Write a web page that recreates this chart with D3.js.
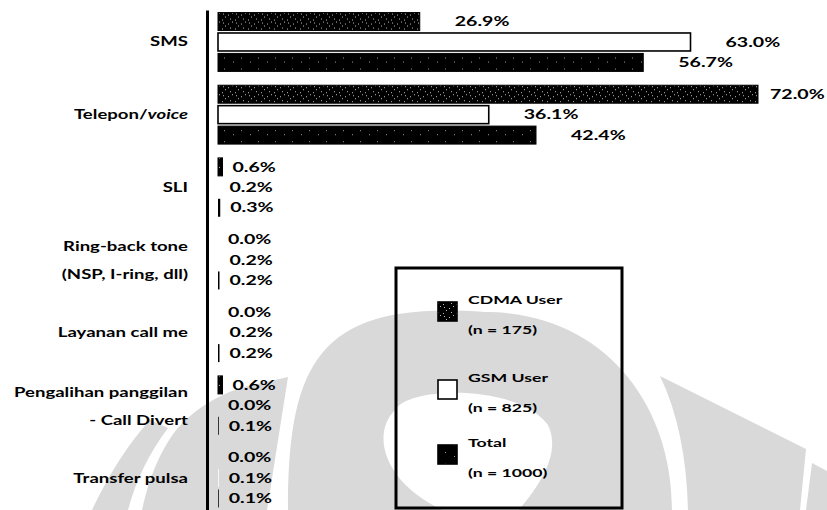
<!DOCTYPE html>
<html>
<head>
<meta charset="utf-8">
<script src="https://cdn.jsdelivr.net/npm/d3@7/dist/d3.min.js"></script>
<style>
  html, body { margin: 0; padding: 0; background: #fff; }
  svg { display: block; }
  text { font-family: Lato, "Open Sans", sans-serif; font-weight: 700; fill: #000; }
</style>
</head>
<body>
<svg id="chart" width="827" height="510"></svg>
<script>
// Services used, share of respondents (%)
const categories = ["SMS", "Telepon/voice", "SLI", "Ring-back tone", "Layanan call me", "Pengalihan panggilan", "Transfer pulsa"];
const categoryLines = [
  ["SMS"],
  ["Telepon/voice"],
  ["SLI"],
  ["Ring-back tone", "(NSP, I-ring, dll)"],
  ["Layanan call me"],
  ["Pengalihan panggilan", "- Call Divert"],
  ["Transfer pulsa"]
];
const italicWords = ["voice"];

const seriesKeys = ["cdma", "gsm", "total"];
const seriesNames = ["CDMA User", "GSM User", "Total"];
const seriesN = [175, 825, 1000];

const cdmaValues  = [26.9, 72.0, 0.6, 0.0, 0.0, 0.6, 0.0];
const gsmValues   = [63.0, 36.1, 0.2, 0.2, 0.2, 0.0, 0.1];
const totalValues = [56.7, 42.4, 0.3, 0.2, 0.2, 0.1, 0.1];

const rows = categories.map((c, i) => ({
  category: c,
  lines: categoryLines[i],
  cdma: cdmaValues[i],
  gsm: gsmValues[i],
  total: totalValues[i]
}));

const W = 827, H = 510;
const SX = 1.45;               // wide lettering used throughout the figure
const svg = d3.select("#chart");

// ---------- fills ----------
const defs = svg.append("defs");
const pc = defs.append("pattern").attr("id", "fillCdma")
  .attr("patternUnits", "userSpaceOnUse").attr("width", 13).attr("height", 9);
pc.append("rect").attr("width", 13).attr("height", 9).attr("fill", "#000");
[[2,1],[7,2],[11,0],[4,4],[9,6],[1,7]].forEach(([px, py]) =>
  pc.append("rect").attr("x", px).attr("y", py).attr("width", 1).attr("height", 1).attr("fill", "#bbb"));

const pt = defs.append("pattern").attr("id", "fillTotal")
  .attr("patternUnits", "userSpaceOnUse").attr("width", 17).attr("height", 11);
pt.append("rect").attr("width", 17).attr("height", 11).attr("fill", "#000");
[[3,1],[12,5]].forEach(([px, py]) =>
  pt.append("rect").attr("x", px).attr("y", py).attr("width", 1).attr("height", 1).attr("fill", "#999"));

const seriesStyle = {
  cdma:  { fill: "url(#fillCdma)",  stroke: "#000", sw: 1 },
  gsm:   { fill: "#fff",            stroke: "#000", sw: 1.6 },
  total: { fill: "url(#fillTotal)", stroke: "#000", sw: 1 }
};

// ---------- background emblem ----------
const mark = svg.append("g").attr("fill", "#d9d9d9").attr("stroke", "none");
mark.append("path").attr("d", "M92,510 Q118,455 150,420 L168,428 Q140,465 128,510 Z");
mark.append("path").attr("d", "M142,510 Q152,462 176,430 Q200,402 240,388 L288,377 L267,510 Z");
mark.append("path").attr("fill-rule", "evenodd").attr("d",
  "M288,510 C288,360 320,300 485,312 C600,312 672,400 672,510 Z " +
  "M447,512 C385,485 370,435 395,410 C410,385 520,385 548,425 C560,450 545,480 517,512 Z");
mark.append("path").attr("d", "M660,376 L806,449 L800,510 L688,510 Q686,430 660,376 Z");
mark.append("path").attr("d", "M812,463 L827,471 L827,510 L806,510 Z");

// ---------- scales ----------
const x = d3.scaleLinear().domain([0, 100]).range([218, 968]);
const y = d3.scaleBand().domain(categories).range([10, 510]).paddingInner(0.19).paddingOuter(0.035);
const ySub = d3.scaleBand().domain(seriesKeys).range([0, y.bandwidth()]).paddingInner(0.12);

function wideText(parent, tx, ty, anchor) {
  return parent.append("text")
    .attr("transform", `translate(${tx},${ty}) scale(${SX},1)`)
    .attr("text-anchor", anchor || "start")
    .attr("dy", "0.35em");
}

// ---------- bars ----------
const groups = svg.append("g").selectAll("g").data(rows).join("g")
  .attr("transform", d => `translate(0,${y(d.category)})`);

groups.selectAll("rect").data(d => seriesKeys.map(k => ({ key: k, value: d[k] }))).join("rect")
  .attr("x", x(0))
  .attr("y", d => ySub(d.key))
  .attr("width", d => x(d.value) - x(0))
  .attr("height", ySub.bandwidth())
  .attr("fill", d => seriesStyle[d.key].fill)
  .attr("stroke", d => (x(d.value) - x(0)) >= 3 ? seriesStyle[d.key].stroke : "none")
  .attr("stroke-width", d => seriesStyle[d.key].sw);

// value labels
groups.each(function (d) {
  const g = d3.select(this);
  seriesKeys.forEach(k => {
    const v = d[k];
    const end = x(v);
    const cy = ySub(k) + ySub.bandwidth() / 2;
    const gap = (end - x(0)) < 10 ? 10 : 35;
    const t = wideText(g, end + gap, cy).style("font-size", "13.5px").text(d3.format(".1f")(v) + "%");
    const w = t.node().getComputedTextLength() * SX;
    if (end + gap + w > W - 14) {
      t.attr("transform", `translate(${end + 12},${cy}) scale(${SX},1)`);
    }
  });
});

// ---------- category axis ----------
const axis = svg.append("g").attr("transform", `translate(207,0)`)
  .call(d3.axisLeft(y).tickSize(0).tickSizeOuter(0).tickFormat(""));
axis.select(".domain").attr("stroke", "#000").attr("stroke-width", 3);

rows.forEach(d => {
  const cy = y(d.category) + y.bandwidth() / 2;
  const n = d.lines.length;
  d.lines.forEach((line, li) => {
    const ly = n === 1 ? cy : cy - 13 + li * 28;
    const t = wideText(svg, 188, ly, "end").style("font-size", "12.8px");
    const re = new RegExp(`(${italicWords.join("|")})`);
    line.split(re).filter(s => s.length).forEach(part => {
      t.append("tspan").text(part)
        .style("font-style", italicWords.includes(part) ? "italic" : "normal");
    });
  });
});

// ---------- legend ----------
const legend = svg.append("g");
legend.append("rect")
  .attr("x", 396).attr("y", 268).attr("width", 226).attr("height", 240)
  .attr("fill", "none").attr("stroke", "#000").attr("stroke-width", 3);

const legendTops = [302, 380, 445];
seriesKeys.forEach((k, i) => {
  const top = legendTops[i];
  legend.append("rect")
    .attr("x", 438).attr("y", top).attr("width", 19).attr("height", 19)
    .attr("fill", seriesStyle[k].fill).attr("stroke", "#000").attr("stroke-width", 1.6);
  wideText(legend, 468, top - 2).style("font-size", "12.2px").text(seriesNames[i]);
  wideText(legend, 468, top + 28).style("font-size", "12.2px").text(`(n = ${seriesN[i]})`);
});
</script>
</body>
</html>
